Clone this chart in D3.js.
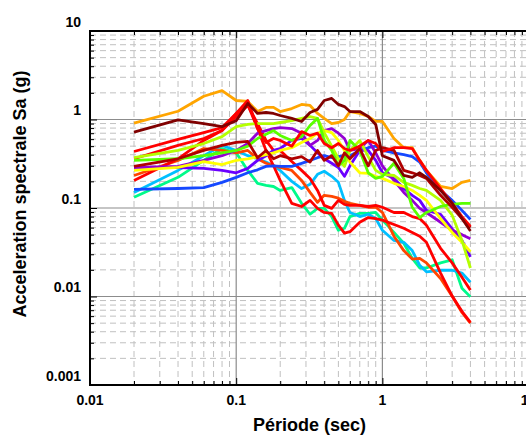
<!DOCTYPE html>
<html>
<head>
<meta charset="utf-8">
<script src="https://cdnjs.cloudflare.com/ajax/libs/d3/7.8.5/d3.min.js"></script>
<style>
  body { margin: 0; background: #fff; }
  svg { display: block; font-family: "Liberation Sans", Arial, sans-serif; }
</style>
</head>
<body>
<svg id="chart" width="526" height="439"></svg>
<script>
// periods (sec) shared by all records
const periods = [0.02, 0.04, 0.06, 0.08, 0.1, 0.12, 0.14, 0.16, 0.18, 0.2, 0.24, 0.28, 0.32, 0.36, 0.4, 0.45,
  0.5, 0.55, 0.6, 0.7, 0.8, 0.9, 1.0, 1.2, 1.4, 1.6, 1.8, 2.0, 2.5, 3.0, 3.5, 4.0];

// spectral acceleration Sa (g), one array per record
const saOrange = [0.91, 1.24, 1.83, 2.12, 1.64, 1.60, 1.23, 1.37, 1.37, 1.23, 1.33, 1.48, 1.44, 1.17, 1.03, 0.90,
  0.925, 1.0, 1.23, 1.17, 1.08, 0.95, 0.95, 0.61, 0.48, 0.48, 0.345, 0.266, 0.175, 0.166, 0.195, 0.205];
const saMaroon = [0.72, 0.99, 0.90, 0.83, 0.97, 1.52, 1.17, 1.20, 1.17, 1.11, 1.03, 0.95, 1.20, 1.30, 1.64, 1.73,
  1.48, 1.40, 1.23, 1.23, 1.08, 0.88, 0.39, 0.345, 0.233, 0.222, 0.25, 0.222, 0.158, 0.113, 0.076, 0.055];
const saDarkRed = [0.295, 0.36, 0.447, 0.51, 0.55, 0.565, 0.37, 0.447, 0.36, 0.39, 0.36, 0.38, 0.33, 0.447, 0.345, 0.39,
  0.30, 0.42, 0.36, 0.47, 0.30, 0.447, 0.48, 0.447, 0.266, 0.25, 0.233, 0.216, 0.139, 0.102, 0.076, 0.06];
const saRed1 = [0.435, 0.595, 0.71, 0.81, 1.17, 1.64, 0.79, 0.55, 0.61, 0.58, 0.50, 0.73, 0.66, 0.70, 0.535, 0.48,
  0.535, 0.47, 0.447, 0.50, 0.58, 0.535, 0.435, 0.48, 0.48, 0.47, 0.345, 0.266, 0.166, 0.113, 0.08, 0.062];
const saRed2 = [0.36, 0.51, 0.61, 0.75, 1.08, 1.44, 0.90, 0.58, 0.447, 0.447, 0.335, 0.266, 0.216, 0.158, 0.107, 0.099,
  0.122, 0.11, 0.107, 0.107, 0.104, 0.107, 0.102, 0.089, 0.089, 0.08, 0.076, 0.064, 0.035, 0.024, 0.0165, 0.0118];
const saRed3 = [0.205, 0.36, 0.58, 0.75, 1.17, 1.48, 0.79, 0.447, 0.30, 0.205, 0.113, 0.104, 0.122, 0.099, 0.089, 0.087,
  0.064, 0.052, 0.054, 0.069, 0.078, 0.076, 0.073, 0.065, 0.059, 0.053, 0.048, 0.041, 0.0184, 0.0101, 0.0068, 0.0051];
const saOrangeRed = [0.233, 0.345, 0.47, 0.447, 0.42, 0.447, 0.36, 0.32, 0.30, 0.287, 0.266, 0.205, 0.15, 0.116, 0.139, 0.135,
  0.129, 0.119, 0.113, 0.107, 0.102, 0.102, 0.089, 0.048, 0.033, 0.0265, 0.027, 0.024, 0.016, 0.0101, 0.0066, 0.005];
const saBlue = [0.162, 0.166, 0.17, 0.195, 0.222, 0.25, 0.27, 0.295, 0.30, 0.295, 0.295, 0.32, 0.345, 0.37, 0.39, 0.37,
  0.38, 0.39, 0.39, 0.447, 0.48, 0.50, 0.447, 0.42, 0.40, 0.38, 0.33, 0.25, 0.158, 0.122, 0.094, 0.074];
const saViolet = [0.287, 0.287, 0.28, 0.266, 0.25, 0.28, 0.345, 0.39, 0.447, 0.47, 0.58, 0.61, 0.51, 0.42, 0.36, 0.32,
  0.287, 0.228, 0.30, 0.447, 0.447, 0.345, 0.25, 0.216, 0.166, 0.139, 0.122, 0.094, 0.085, 0.058, 0.043, 0.028];
const saPurple = [0.287, 0.295, 0.345, 0.39, 0.447, 0.535, 0.70, 0.75, 0.79, 0.81, 0.79, 0.70, 0.51, 0.58, 0.75, 0.79,
  0.70, 0.61, 0.447, 0.47, 0.58, 0.42, 0.30, 0.205, 0.15, 0.122, 0.099, 0.089, 0.069, 0.056, 0.05, 0.045];
const saYellow = [0.266, 0.287, 0.335, 0.31, 0.345, 0.36, 0.38, 0.40, 0.42, 0.447, 0.48, 0.55, 0.61, 0.70, 0.75, 0.71,
  0.58, 0.447, 0.33, 0.25, 0.246, 0.228, 0.216, 0.19, 0.175, 0.158, 0.139, 0.122, 0.076, 0.053, 0.041, 0.032];
const saChartreuse = [0.37, 0.447, 0.535, 0.64, 0.83, 0.88, 0.90, 0.90, 0.90, 0.925, 0.97, 1.03, 1.08, 1.03, 0.71, 0.50,
  0.36, 0.295, 0.447, 0.58, 0.38, 0.266, 0.24, 0.233, 0.195, 0.18, 0.166, 0.158, 0.122, 0.083, 0.043, 0.021];
const saLime = [0.345, 0.36, 0.39, 0.42, 0.447, 0.50, 0.61, 0.68, 0.75, 0.66, 0.58, 0.64, 0.856, 1.03, 0.58, 0.447,
  0.30, 0.345, 0.58, 0.447, 0.25, 0.216, 0.228, 0.32, 0.216, 0.102, 0.078, 0.089, 0.104, 0.11, 0.113, 0.113];
const saSkyBlue = [0.15, 0.266, 0.39, 0.51, 0.447, 0.39, 0.36, 0.33, 0.30, 0.266, 0.20, 0.166, 0.185, 0.24, 0.26, 0.228,
  0.195, 0.122, 0.089, 0.08, 0.085, 0.076, 0.056, 0.043, 0.041, 0.033, 0.0225, 0.019, 0.0198, 0.0198, 0.0184, 0.0145];
const saSpring = [0.132, 0.222, 0.345, 0.47, 0.42, 0.266, 0.19, 0.18, 0.175, 0.158, 0.17, 0.113, 0.085, 0.099, 0.099, 0.08,
  0.056, 0.059, 0.08, 0.087, 0.087, 0.089, 0.073, 0.053, 0.04, 0.027, 0.021, 0.021, 0.024, 0.026, 0.0124, 0.0099];

const xTickLabels = ['0.01', '0.1', '1', '10'];
const yTickLabels = ['0.001', '0.01', '0.1', '1', '10'];

// draw order: first ones end up underneath
const records = [
  { color: '#00FA8A', values: saSpring },
  { color: '#00BFFF', values: saSkyBlue },
  { color: '#FF4500', values: saOrangeRed },
  { color: '#FF0000', values: saRed3 },
  { color: '#FF0000', values: saRed2 },
  { color: '#1548FF', values: saBlue },
  { color: '#6A00FF', values: saViolet },
  { color: '#9400D3', values: saPurple },
  { color: '#FFFF00', values: saYellow },
  { color: '#B4FF00', values: saChartreuse },
  { color: '#5AFF00', values: saLime },
  { color: '#FFA500', values: saOrange },
  { color: '#B00000', values: saDarkRed },
  { color: '#FF0000', values: saRed1 },
  { color: '#800000', values: saMaroon }
];

const svg = d3.select('#chart');

const x = d3.scaleLog().domain([0.01, 10]).range([90, 528.6]);
const y = d3.scaleLog().domain([0.001, 10]).range([385, 31]);

// tick positions on a log axis
const decades = (lo, hi) => d3.range(Math.log10(lo), Math.log10(hi) + 1).map(e => Math.pow(10, e));
const minors = (lo, hi) => {
  const out = [];
  decades(lo, hi).slice(0, -1).forEach(d => { for (let k = 2; k <= 9; k++) out.push(d * k); });
  return out;
};

const xMajor = decades(0.01, 10);
const yMajor = decades(0.001, 10);
const xMinor = minors(0.01, 10);
const yMinor = minors(0.001, 10);

const grid = svg.append('g');

// minor grid, dashed
grid.selectAll('.vmin').data(xMinor).enter().append('line')
  .attr('x1', d => x(d)).attr('x2', d => x(d))
  .attr('y1', y(10)).attr('y2', y(0.001))
  .attr('stroke', '#c0c0c0').attr('stroke-width', 1).attr('stroke-dasharray', '6,4');
grid.selectAll('.hmin').data(yMinor).enter().append('line')
  .attr('x1', x(0.01)).attr('x2', x(10))
  .attr('y1', d => y(d)).attr('y2', d => y(d))
  .attr('stroke', '#c0c0c0').attr('stroke-width', 1).attr('stroke-dasharray', '6,4');

// major grid, solid
grid.selectAll('.vmaj').data(xMajor.slice(1, -1)).enter().append('line')
  .attr('x1', d => x(d)).attr('x2', d => x(d))
  .attr('y1', y(10)).attr('y2', y(0.001))
  .attr('stroke', '#8c8c8c').attr('stroke-width', 1.2);
grid.selectAll('.hmaj').data(yMajor.slice(1, -1)).enter().append('line')
  .attr('x1', x(0.01)).attr('x2', x(10))
  .attr('y1', d => y(d)).attr('y2', d => y(d))
  .attr('stroke', '#8c8c8c').attr('stroke-width', 1.2);

// spectra
const line = d3.line()
  .x((d, i) => x(periods[i]))
  .y(d => y(d));

svg.append('g').selectAll('path').data(records).enter().append('path')
  .attr('d', d => line(d.values))
  .attr('fill', 'none')
  .attr('stroke', d => d.color)
  .attr('stroke-width', 2.8)
  .attr('stroke-linejoin', 'round');

// axes: ticks point inward
const axes = svg.append('g');
const tickSize = v => (xMajor.includes(v) || yMajor.includes(v)) ? 7 : 4;

axes.append('g').attr('transform', `translate(0,${y(0.001)})`)
  .call(d3.axisTop(x).tickValues(xMinor.concat(xMajor)).tickSize(0).tickFormat(''))
  .call(g => g.select('.domain').remove())
  .call(g => g.selectAll('.tick line').attr('y2', d => -tickSize(d)).attr('stroke', '#000'));
axes.append('g').attr('transform', `translate(0,${y(10)})`)
  .call(d3.axisBottom(x).tickValues(xMinor.concat(xMajor)).tickSize(0).tickFormat(''))
  .call(g => g.select('.domain').remove())
  .call(g => g.selectAll('.tick line').attr('y2', d => tickSize(d)).attr('stroke', '#000'));
axes.append('g').attr('transform', `translate(${x(0.01)},0)`)
  .call(d3.axisRight(y).tickValues(yMinor.concat(yMajor)).tickSize(0).tickFormat(''))
  .call(g => g.select('.domain').remove())
  .call(g => g.selectAll('.tick line').attr('x2', d => tickSize(d)).attr('stroke', '#000'));

// frame (right side sits outside the window)
axes.append('rect')
  .attr('x', x(0.01)).attr('y', y(10))
  .attr('width', x(10) - x(0.01)).attr('height', y(0.001) - y(10))
  .attr('fill', 'none').attr('stroke', '#000').attr('stroke-width', 2);

// tick labels
svg.append('g').selectAll('text').data(xTickLabels).enter().append('text')
  .attr('x', d => x(+d)).attr('y', y(0.001) + 20)
  .attr('text-anchor', 'middle')
  .attr('font-size', 14).attr('font-weight', 'bold')
  .text(d => d);

svg.append('g').selectAll('text').data(yTickLabels).enter().append('text')
  .attr('x', 81).attr('y', d => y(+d) - 4.5)
  .attr('text-anchor', 'end')
  .attr('font-size', 14).attr('font-weight', 'bold')
  .text(d => d);

// axis titles
svg.append('text')
  .attr('x', 309.5).attr('y', 431)
  .attr('text-anchor', 'middle')
  .attr('font-size', 18).attr('font-weight', 'bold')
  .text('Période (sec)');

svg.append('text')
  .attr('transform', 'translate(26,194) rotate(-90)')
  .attr('text-anchor', 'middle')
  .attr('font-size', 18).attr('font-weight', 'bold')
  .text('Acceleration spectrale Sa (g)');
</script>
</body>
</html>
